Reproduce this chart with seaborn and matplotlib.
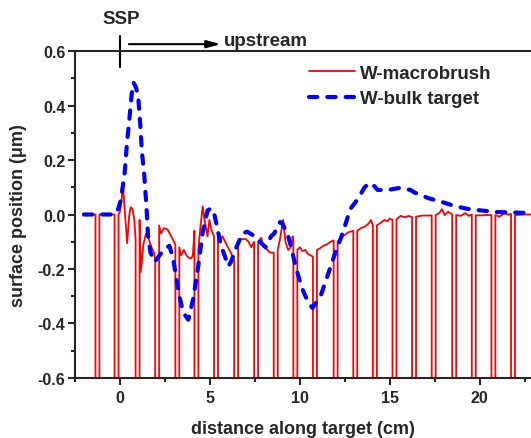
import numpy as np
import pandas as pd
import seaborn as sns
import matplotlib
matplotlib.use("Agg")
import matplotlib.pyplot as plt
import matplotlib.transforms as mtransforms

# ---------------- data ----------------
# W-macrobrush tile surface points (cm, um); gap edges are included
red_x = [-2.0, -1.36,
         -1.14, -0.30,
         -0.08, 0.0, 0.1, 0.16, 0.25, 0.4, 0.52, 0.6, 0.7, 0.8, 0.87,
         1.09, 1.16, 1.3, 1.45, 1.6, 1.75, 1.9, 1.96,
         2.18, 2.28, 2.45, 2.65, 2.85, 3.0, 3.08,
         3.30, 3.4, 3.55, 3.7, 3.85, 3.98, 4.05, 4.14,
         4.36, 4.45, 4.6, 4.7, 4.87, 4.97, 5.1, 5.23,
         5.45, 5.55, 5.7, 5.85, 6.0, 6.16, 6.3, 6.35,
         6.57, 6.7, 6.85, 7.0, 7.15, 7.3, 7.46,
         7.68, 7.85, 8.0, 8.2, 8.35, 8.55,
         8.77, 8.9, 9.07, 9.2, 9.35, 9.5, 9.6, 9.64,
         9.86, 10.0, 10.15, 10.3, 10.45, 10.6, 10.73,
         10.95, 11.1, 11.3, 11.5, 11.7, 11.88,
         12.10, 12.3, 12.5, 12.7, 12.97,
         13.19, 13.4, 13.6, 13.8, 13.95, 14.06,
         14.28, 14.5, 14.7, 14.85, 15.0, 15.15,
         15.37, 15.6, 15.85, 16.05, 16.24,
         16.46, 16.8, 17.1, 17.33,
         17.55, 17.75, 17.9, 18.05, 18.25, 18.47,
         18.69, 18.95, 19.2, 19.4, 19.56,
         19.78, 20.1, 20.4, 20.65,
         20.87, 21.1, 21.35, 21.6, 21.74,
         21.96, 22.5, 23.0]
red_y = [0.0, 0.0,
         0.0, 0.0,
         0.0, 0.01, 0.06, 0.117, 0.03, -0.105, 0.0, 0.027, 0.02, -0.02, -0.09,
         -0.02, -0.21, -0.11, -0.07, -0.09, -0.12, -0.14, -0.17,
         -0.04, -0.07, -0.05, -0.055, -0.08, -0.1, -0.11,
         -0.12, -0.15, -0.13, -0.15, -0.16, -0.16, -0.15, -0.06,
         -0.13, -0.06, 0.03, -0.02, -0.08, -0.02, -0.06, -0.08,
         -0.07, -0.1, -0.08, -0.1, -0.12, -0.14, -0.16, -0.17,
         -0.11, -0.09, -0.09, -0.09, -0.1, -0.12, -0.1,
         -0.1, -0.085, -0.12, -0.13, -0.14, -0.14,
         -0.13, -0.09, -0.02, -0.1, -0.13, -0.12, -0.08, -0.1,
         -0.13, -0.12, -0.135, -0.13, -0.145, -0.15, -0.155,
         -0.13, -0.125, -0.115, -0.11, -0.1, -0.095,
         -0.1, -0.085, -0.075, -0.065, -0.06,
         -0.06, -0.05, -0.045, -0.035, -0.02, -0.04,
         -0.04, -0.03, -0.02, -0.025, -0.015, -0.02,
         -0.018, -0.005, -0.01, -0.005, -0.01,
         -0.008, -0.004, -0.004, -0.003,
         -0.002, 0.005, 0.02, -0.002, 0.01, 0.0,
         -0.002, -0.005, 0.005, -0.005, 0.0,
         -0.003, -0.003, -0.002, -0.002,
         -0.002, -0.008, 0.004, 0.0, 0.002,
         -0.002, 0.0, 0.0]
# gaps between tungsten lamellae (cm)
gap_start = [-1.36, -0.30, 0.87, 1.96, 3.08, 4.14, 5.23, 6.35, 7.46, 8.55, 9.64,
             10.73, 11.88, 12.97, 14.06, 15.15, 16.24, 17.33, 18.47, 19.56, 20.65, 21.74]
gap_end = [-1.14, -0.08, 1.09, 2.18, 3.30, 4.36, 5.45, 6.57, 7.68, 8.77, 9.86,
           10.95, 12.10, 13.19, 14.28, 15.37, 16.46, 17.55, 18.69, 19.78, 20.87, 21.96]
gap_depth = -1.0

# W-bulk target
blue_x = [-2.0, -0.5, -0.3, -0.1, 0.04, 0.15, 0.25, 0.4, 0.53, 0.65, 0.76, 0.9,
          1.02, 1.13, 1.22, 1.35, 1.47, 1.56, 1.7, 1.93, 2.2, 2.5, 2.75, 2.95,
          3.1, 3.3, 3.52, 3.8, 4.07, 4.35, 4.6, 4.87, 5.05, 5.2, 5.38, 5.6,
          5.89, 6.03, 6.2, 6.43, 6.8, 7.07, 7.5, 7.7, 8.1, 8.4, 8.57, 8.9,
          9.0, 9.3, 9.5, 9.8, 10.15, 10.45, 10.7, 11.15, 11.6, 11.97, 12.4,
          12.8, 13.24, 13.6, 13.85, 14.06, 14.33, 14.9, 15.5, 15.7, 16.15,
          16.4, 17.15, 17.9, 18.6, 19.3, 20.05, 20.96, 21.7, 22.4, 23.0]
blue_y = [0.0, 0.0, 0.0, 0.02, 0.05, 0.1, 0.145, 0.268, 0.354, 0.44, 0.484, 0.465,
          0.428, 0.33, 0.23, 0.145, 0.033, -0.078, -0.14, -0.174, -0.15, -0.125, -0.115, -0.16,
          -0.22, -0.3, -0.36, -0.386, -0.31, -0.19, -0.065, 0.015, 0.022, 0.015, -0.04, -0.11,
          -0.164, -0.19, -0.17, -0.127, -0.07, -0.063, -0.08, -0.096, -0.12, -0.08, -0.07, -0.028,
          -0.03, -0.068, -0.115, -0.2, -0.275, -0.32, -0.343, -0.3, -0.213, -0.14, -0.065,
          0.02, 0.058, 0.1, 0.115, 0.11, 0.09, 0.09, 0.097, 0.096, 0.09,
          0.08, 0.06, 0.046, 0.031, 0.021, 0.015, 0.009, 0.008, 0.006, 0.005]

x_ticks = [0, 5, 10, 15, 20]
y_ticks = [-0.6, -0.4, -0.2, 0.0, 0.2, 0.4, 0.6]

# ---------------- build macrobrush path with gaps ----------------
px, py = [], []
for x, y in zip(red_x, red_y):
    for gs, ge in zip(gap_start, gap_end):
        if np.isclose(x, ge):
            px.append(ge); py.append(gap_depth)
    px.append(x); py.append(y)
    for gs, ge in zip(gap_start, gap_end):
        if np.isclose(x, gs):
            px.append(gs); py.append(gap_depth)
red_df = pd.DataFrame({"x": px, "y": py})
blue_df = pd.DataFrame({"x": blue_x, "y": blue_y})

# ---------------- plot ----------------
sns.set_style("ticks")
plt.rcParams["font.family"] = ["Liberation Sans", "DejaVu Sans"]
plt.rcParams["font.weight"] = "bold"
plt.rcParams["axes.unicode_minus"] = False

fig = plt.figure(figsize=(5.31, 4.39), dpi=100)
ax = fig.add_axes([0.1412, 0.1367, 0.8588, 0.7448])

sns.lineplot(data=red_df, x="x", y="y", sort=False, estimator=None, ax=ax,
             color="#ff0000", lw=1.3, label="W-macrobrush")
sns.lineplot(data=blue_df, x="x", y="y", sort=False, estimator=None, ax=ax,
             color="#0000ff", lw=3.0, label="W-bulk target",
             linestyle=(0, (2.0, 2.4)), dash_capstyle="round")

ax.set_xlim(-2.0, 22.85)
ax.set_ylim(-0.6, 0.6)
ax.set_xticks(x_ticks)
ax.set_xticklabels([str(t) for t in x_ticks])
ax.set_xticks([-2.5 + 5 * i for i in range(6)], minor=True)
ax.set_yticks(y_ticks)
ax.set_yticklabels(["%.1f" % t for t in y_ticks])
ax.set_yticks(np.arange(-0.5, 0.6, 0.2), minor=True)
ax.tick_params(which="major", direction="out", length=5, width=1.5,
               labelsize=11.5, pad=2)
ax.tick_params(which="minor", direction="out", length=3, width=1.5)
ax.tick_params(axis="x", which="major", pad=4)
for s in ["left", "bottom", "top"]:
    ax.spines[s].set_linewidth(1.5)
    ax.spines[s].set_visible(True)
ax.spines["right"].set_visible(False)

ax.set_xlabel("distance along target (cm)", fontsize=13, fontweight="bold")
ax.set_ylabel("surface position (\u03bcm)", fontsize=13, fontweight="bold")
ax.xaxis.set_label_coords(0.5, -0.128)
ax.yaxis.set_label_coords(-0.105, 0.5)

leg = ax.legend(loc="upper left", bbox_to_anchor=(0.513, 0.958), frameon=False,
                prop={"weight": "bold", "size": 13.5}, handlelength=2.45,
                handletextpad=0.3, labelspacing=0.45, borderpad=0, borderaxespad=0)

# SSP marker and upstream arrow
trans = mtransforms.blended_transform_factory(ax.transData, ax.transAxes)
ax.plot([0, 0], [0.951, 1.046], transform=trans, color="black", lw=1.5, clip_on=False)
ax.text(0.05, 1.098, "SSP", transform=trans, ha="center", va="center",
        fontsize=13.5, fontweight="bold")
ax.annotate("", xy=(5.6, 1.021), xytext=(0.5, 1.021), xycoords=trans, textcoords=trans,
            arrowprops=dict(arrowstyle="-|>,head_length=0.55,head_width=0.15",
                            lw=1.5, color="black", mutation_scale=15, shrinkA=0, shrinkB=0),
            annotation_clip=False)
ax.text(5.8, 1.017, "upstream", transform=trans, ha="left", va="baseline",
        fontsize=13.5, fontweight="bold")

fig.savefig("out.png", dpi=100)
